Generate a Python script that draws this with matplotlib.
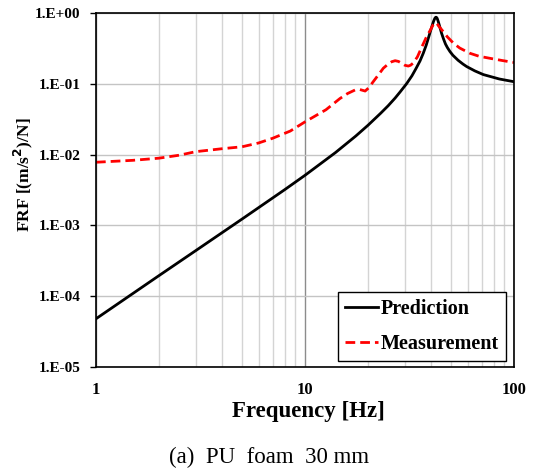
import matplotlib.pyplot as plt
from matplotlib.ticker import FixedLocator, NullFormatter, FuncFormatter

# --- values ---
pred_f = [1, 2, 3, 5, 8, 10, 14, 17.5, 20, 23, 25, 27, 28.5, 30.6, 32.5, 34,
          35.5, 36.8, 38, 39, 39.8, 40.5, 41.2, 41.8, 42.2, 42.5, 42.9, 43.4, 44,
          45, 46, 47, 48, 49.4, 51, 54, 57, 59.4, 65, 71.3, 85, 100]
pred_frf = [4.8e-5, 1.95e-4, 4.4e-4, 1.23e-3, 3.2e-3, 5.1e-3, 0.0107, 0.0183, 0.0259,
            0.0383, 0.049, 0.063, 0.0766, 0.1, 0.13, 0.165, 0.21, 0.27, 0.35,
            0.45, 0.55, 0.65, 0.76, 0.84, 0.87, 0.87, 0.84, 0.76, 0.66, 0.52, 0.43,
            0.365, 0.325, 0.285, 0.253, 0.215, 0.19, 0.175, 0.152, 0.135, 0.117, 0.107]

meas_f = [1, 1.5, 2, 2.5, 3, 4, 5, 6, 7, 8.5, 10, 12.6, 14.7, 16, 17.4, 18.3, 19.4,
          20.2, 21.2, 22.5, 23.7, 25, 26, 27.0, 28, 29, 30, 31.2, 32, 33, 34.5, 36.2,
          38, 39.8, 41, 41.9, 42.7, 43.5, 45.9, 48, 51.3, 55, 61.5, 68, 76.8, 88, 100]
meas_frf = [0.0078, 0.0083, 0.0089, 0.0098, 0.011, 0.0121, 0.0129, 0.0146, 0.017,
            0.0215, 0.029, 0.043, 0.062, 0.073, 0.082, 0.083, 0.079, 0.088, 0.107,
            0.135, 0.166, 0.19, 0.205, 0.212, 0.207, 0.195, 0.183, 0.178, 0.183,
            0.197, 0.24, 0.33, 0.45, 0.575, 0.68, 0.73, 0.72, 0.66, 0.544, 0.46,
            0.375, 0.32, 0.27, 0.245, 0.229, 0.213, 0.20]

plt.rcParams['font.family'] = ['Liberation Serif', 'DejaVu Serif']

fig = plt.figure(figsize=(5.38, 4.71), dpi=100)
ax = fig.add_axes([0.1784, 0.2208, 0.777, 0.7516])

ax.plot(pred_f, pred_frf, color='black', lw=2, label='Prediction')
ax.plot(meas_f, meas_frf, color='#ff0000', lw=2, dashes=(3.5, 1.8), label='Measurement')

ax.set_xscale('log')
ax.set_yscale('log')
ax.set_xlim(1, 100)
ax.set_ylim(1e-5, 1)

# gridlines like the spreadsheet original
ax.xaxis.set_minor_locator(FixedLocator([d * m for d in (1, 10) for m in range(2, 10)]))
ax.xaxis.set_minor_formatter(NullFormatter())
ax.yaxis.set_minor_locator(FixedLocator([]))
ax.grid(True, which='minor', axis='x', color='#d4d4d4', lw=1)
ax.grid(True, which='major', axis='x', color='#8c8c8c', lw=1)
ax.grid(True, which='major', axis='y', color='#c4c4c4', lw=1)
ax.set_axisbelow(True)

ax.set_xticks([1, 10, 100])
ax.xaxis.set_major_formatter(FuncFormatter(lambda v, p: f'{v:g}'))
ax.set_yticks([1e-5, 1e-4, 1e-3, 1e-2, 1e-1, 1])
ax.yaxis.set_major_formatter(FuncFormatter(lambda v, p: f'{v:.0E}'.replace('E', '.E', 1)))

ax.tick_params(axis='x', which='both', length=0, pad=11, labelsize=12)
ax.tick_params(axis='y', which='major', length=4, width=1, direction='out', pad=7, labelsize=11)
for lab in ax.get_xticklabels() + ax.get_yticklabels():
    lab.set_fontweight('bold')

for sp in ax.spines.values():
    sp.set_color('black')
    sp.set_linewidth(1.2)

fig.text(0.574, 1 - 411 / 471, 'Frequency [Hz]', fontsize=16.5, fontweight='bold',
         ha='center', va='center')
fig.text(23 / 538, 1 - 175 / 471, 'FRF [(m/s$^\\mathbf{2}$)/N]', fontsize=12.5, fontweight='bold',
         rotation=90, ha='center', va='center')
fig.text(0.5, 1 - 457 / 471, '(a)  PU  foam  30 mm', fontsize=16.5, ha='center', va='center')

leg = ax.legend(loc='lower right', bbox_to_anchor=(506 / 538, 1 - 361 / 471),
                bbox_transform=fig.transFigure, borderaxespad=0, fancybox=False,
                framealpha=1, edgecolor='black', handlelength=1.6, handletextpad=0.15,
                labelspacing=0.75, borderpad=0.35,
                prop={'family': 'Liberation Serif', 'weight': 'bold', 'size': 14.5})
leg.get_frame().set_linewidth(1)

fig.savefig('out.png', dpi=100)
